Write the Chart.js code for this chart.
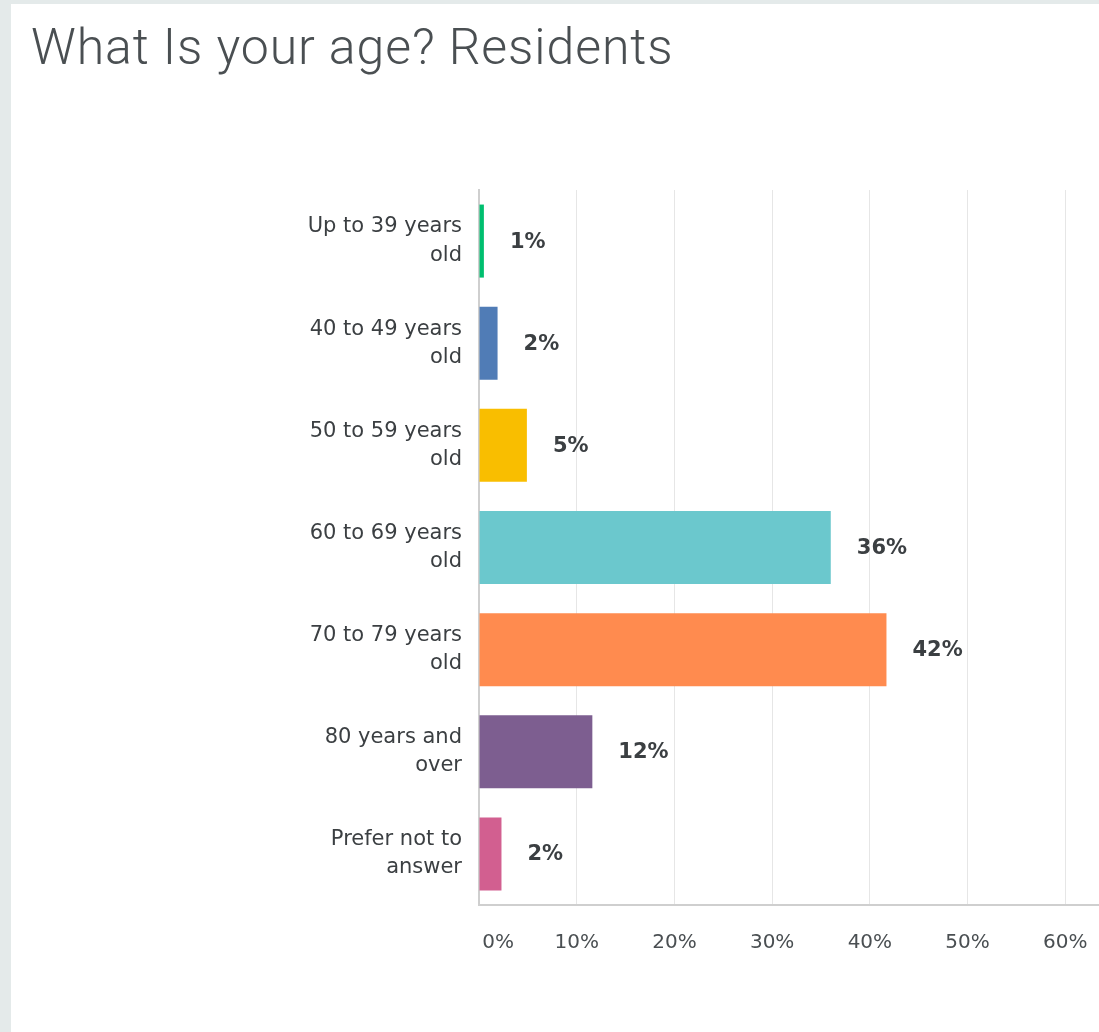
<!DOCTYPE html>
<html>
<head>
<meta charset="utf-8">
<title>What Is your age? Residents</title>
<script src="https://cdn.jsdelivr.net/npm/chart.js@4"></script>
<style>
    html, body {
        margin: 0;
        padding: 0;
        width: 1099px;
        height: 1032px;
        overflow: hidden;
        background: #e4eaea;
    }
    .card {
        position: absolute;
        left: 11px;
        top: 4px;
        width: 1200px;
        height: 1100px;
        background: #ffffff;
        overflow: hidden;
    }
    .card h1 {
        position: absolute;
        left: 20px;
        top: 18px;
        margin: 0;
        font-family: Roboto, "Noto Sans", sans-serif;
        font-weight: 300;
        font-size: 50px;
        line-height: 1;
        letter-spacing: 0.9px;
        color: #4a4f52;
        white-space: nowrap;
    }
    #age-chart {
        position: absolute;
        left: -11px;
        top: -4px;
    }
</style>
</head>
<body>
<div class="card">
    <h1>What Is your age? Residents</h1>
    <canvas id="age-chart" width="1163" height="1032"></canvas>
</div>
<script>
const ageGroups = [
    ["Up to 39 years", "old"],
    ["40 to 49 years", "old"],
    ["50 to 59 years", "old"],
    ["60 to 69 years", "old"],
    ["70 to 79 years", "old"],
    ["80 years and", "over"],
    ["Prefer not to", "answer"]
];
const percentages = [0.5, 1.9, 4.9, 36.0, 41.7, 11.6, 2.3];
const barColors = ["#00bf6f", "#507cb6", "#f9be00", "#6bc8cd", "#ff8b4f", "#7d5e90", "#d25f90"];
const tickValues = [0, 10, 20, 30, 40, 50, 60];
const axisMax = 70;

const fontFamily = "'DejaVu Sans', Verdana, sans-serif";

// writes the rounded percentage just past the end of each bar
const valueLabels = {
    id: "valueLabels",
    afterDatasetsDraw(chart) {
        const ctx = chart.ctx;
        const meta = chart.getDatasetMeta(0);
        ctx.save();
        ctx.font = "bold 21px " + fontFamily;
        ctx.fillStyle = "#3b3f42";
        ctx.textAlign = "left";
        ctx.textBaseline = "middle";
        meta.data.forEach((bar, i) => {
            ctx.fillText(Math.round(percentages[i]) + "%", bar.x + 26, bar.y + 1);
        });
        ctx.restore();
    }
};

const ctx = document.getElementById("age-chart").getContext("2d");
new Chart(ctx, {
    type: "bar",
    data: {
        labels: ageGroups,
        datasets: [{
            data: percentages,
            backgroundColor: barColors,
            borderWidth: 0,
            barPercentage: 0.715,
            categoryPercentage: 1
        }]
    },
    options: {
        indexAxis: "y",
        responsive: false,
        animation: false,
        layout: { padding: { top: 190, left: 0, right: 0, bottom: 0 } },
        plugins: {
            legend: { display: false },
            tooltip: { enabled: false },
            title: { display: false }
        },
        scales: {
            x: {
                min: 0,
                max: axisMax,
                afterBuildTicks(scale) {
                    scale.ticks = tickValues.map(v => ({ value: v }));
                },
                afterFit(scale) {
                    scale.height = 127;
                },
                grid: { color: "#e6e6e6", lineWidth: 1, drawTicks: false },
                border: { color: "#cfcfcf", width: 2 },
                ticks: {
                    padding: 26,
                    color: "#4a4f52",
                    font: { family: fontFamily, size: 20 },
                    // the zero label sits just right of the axis line
                    callback: v => (v === 0 ? "\u2007\u2007\u20070%" : v + "%")
                }
            },
            y: {
                afterFit(scale) {
                    scale.width = 479;
                },
                grid: { display: false, drawTicks: false },
                border: { color: "#cfcfcf", width: 2 },
                ticks: {
                    padding: 17,
                    color: "#3b3f42",
                    font: { family: fontFamily, size: 21, lineHeight: 1.34 }
                }
            }
        }
    },
    plugins: [valueLabels]
});
</script>
</body>
</html>
